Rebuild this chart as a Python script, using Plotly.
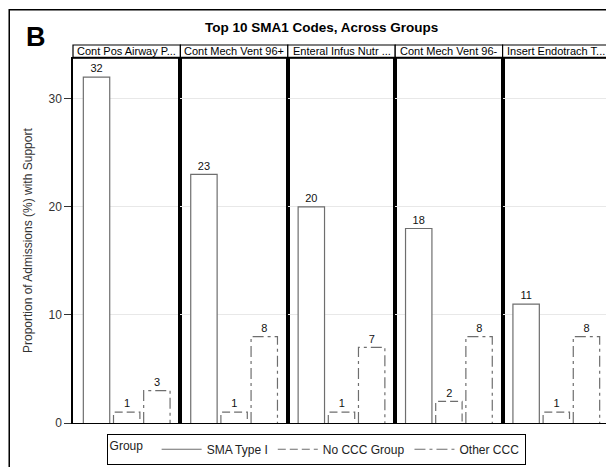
import plotly.graph_objects as go
from plotly.subplots import make_subplots

# ---- data ----
panels = ["Cont Pos Airway P...", "Cont Mech Vent 96+", "Enteral Infus Nutr ...",
          "Cont Mech Vent 96-", "Insert Endotrach T..."]
groups = ["SMA Type I", "No CCC Group", "Other CCC"]
sma_type1 = [32, 23, 20, 18, 11]
no_ccc = [1, 1, 1, 2, 1]
other_ccc = [3, 8, 7, 8, 8]
y_ticks = [0, 10, 20, 30]

series = [sma_type1, no_ccc, other_ccc]
dashes = ["solid", "8px,4px", "11px,4px,3px,4px"]

OFF = 8  # page body margin offset
W, H = 614 - OFF, 467 - OFF
# targets in screen pixels
PL, PR, PT, PB = 73, 612, 45, 431
ML, MR, MT, MB = PL - OFF, W - (PR - OFF), PT - OFF, H - (PB - OFF)
plot_h = H - MT - MB
plot_w = W - ML - MR

def px_x(p):
    return (p - OFF - ML) / plot_w

def px_y(p):
    return (H - MB - (p - OFF)) / plot_h

head_bottom = px_y(58)

fig = make_subplots(rows=1, cols=5, horizontal_spacing=0)

bw = 0.875
outline = "#6e6e6e"
for c in range(5):
    col = c + 1
    xs = list(range(3))
    vals = [s[c] for s in series]
    fig.add_trace(go.Bar(x=xs, y=vals, width=bw, marker=dict(color="white", line=dict(width=0)),
                         text=[str(v) for v in vals], textposition="outside",
                         textfont=dict(size=11, color="#111", family="Liberation Sans, Arial"),
                         cliponaxis=False, showlegend=False, hoverinfo="skip"),
                  row=1, col=col)
    for g in range(3):
        v = series[g][c]
        x0, x1 = g - bw / 2, g + bw / 2
        fig.add_trace(go.Scatter(x=[x0, x0, x1, x1], y=[0, v, v, 0], mode="lines",
                                 line=dict(color=outline, width=1.2, dash=dashes[g]),
                                 name=groups[g], legendgroup=groups[g],
                                 showlegend=(c == 0), hoverinfo="skip"),
                      row=1, col=col)
    fig.update_xaxes(range=[-0.78, 2.78], showticklabels=False, ticks="", showgrid=False,
                     zeroline=False, showline=True, mirror=True, linecolor="black", linewidth=1,
                     row=1, col=col)
    fig.update_yaxes(range=[0, 33.8], tickvals=y_ticks, showgrid=True, gridcolor="#e8e8e8",
                     zeroline=False, showline=True, mirror=True, linecolor="black", linewidth=1.5,
                     domain=[0, head_bottom], row=1, col=col,
                     showticklabels=(c == 0), ticks="outside" if c == 0 else "",
                     ticklen=7, tickcolor="#333",
                     tickfont=dict(size=12, color="#333", family="Liberation Sans, Arial"))
    xref = "x domain" if c == 0 else f"x{col} domain"
    fig.add_shape(type="rect", xref=xref, yref="paper", x0=0, x1=1, y0=head_bottom, y1=px_y(45),
                  line=dict(color="black", width=1.2), fillcolor="white", layer="above")
    fig.add_annotation(xref=xref, yref="paper", x=0.5, y=(head_bottom + px_y(45)) / 2,
                       text=panels[c], showarrow=False, xanchor="center", yanchor="middle",
                       font=dict(size=11, color="black", family="Liberation Sans, Arial"))

# header bottom thicker line
fig.add_shape(type="line", xref="paper", yref="paper", x0=0, x1=1, y0=head_bottom, y1=head_bottom,
              line=dict(color="black", width=2))

# outer frame
fig.add_shape(type="rect", xref="paper", yref="paper", x0=px_x(9), x1=px_x(640), y0=px_y(480), y1=px_y(9),
              line=dict(color="black", width=1.5), layer="below")

fig.add_annotation(xref="paper", yref="paper", x=px_x(322), y=px_y(27),
                   text="<b>Top 10 SMA1 Codes, Across Groups</b>", showarrow=False,
                   xanchor="center", yanchor="middle",
                   font=dict(size=13.5, color="black", family="Liberation Sans, Arial"))
fig.add_annotation(xref="paper", yref="paper", x=px_x(36), y=px_y(37),
                   text="<b>B</b>", showarrow=False, xanchor="center", yanchor="middle",
                   font=dict(size=27, color="black", family="Liberation Sans, Arial"))
fig.add_annotation(xref="paper", yref="paper", x=px_x(28), y=px_y(245),
                   text="Proportion of Admissions (%) with Support", showarrow=False, textangle=-90,
                   xanchor="center", yanchor="middle",
                   font=dict(size=12, color="#333", family="Liberation Sans, Arial"))

fig.update_layout(
    width=W, height=H, margin=dict(l=ML, r=MR, t=MT, b=MB),
    paper_bgcolor="white", plot_bgcolor="white",
    font=dict(family="Liberation Sans, Arial", size=12, color="#222"),
    legend=dict(orientation="h", x=px_x(317), xanchor="center", y=px_y(442), yanchor="top",
                bordercolor="black", borderwidth=1, bgcolor="white",
                title=dict(text="Group  ", side="left", font=dict(size=12)), font=dict(size=12),
                itemwidth=40, tracegroupgap=0),
    bargap=0,
)

fig.write_html("out.html")
